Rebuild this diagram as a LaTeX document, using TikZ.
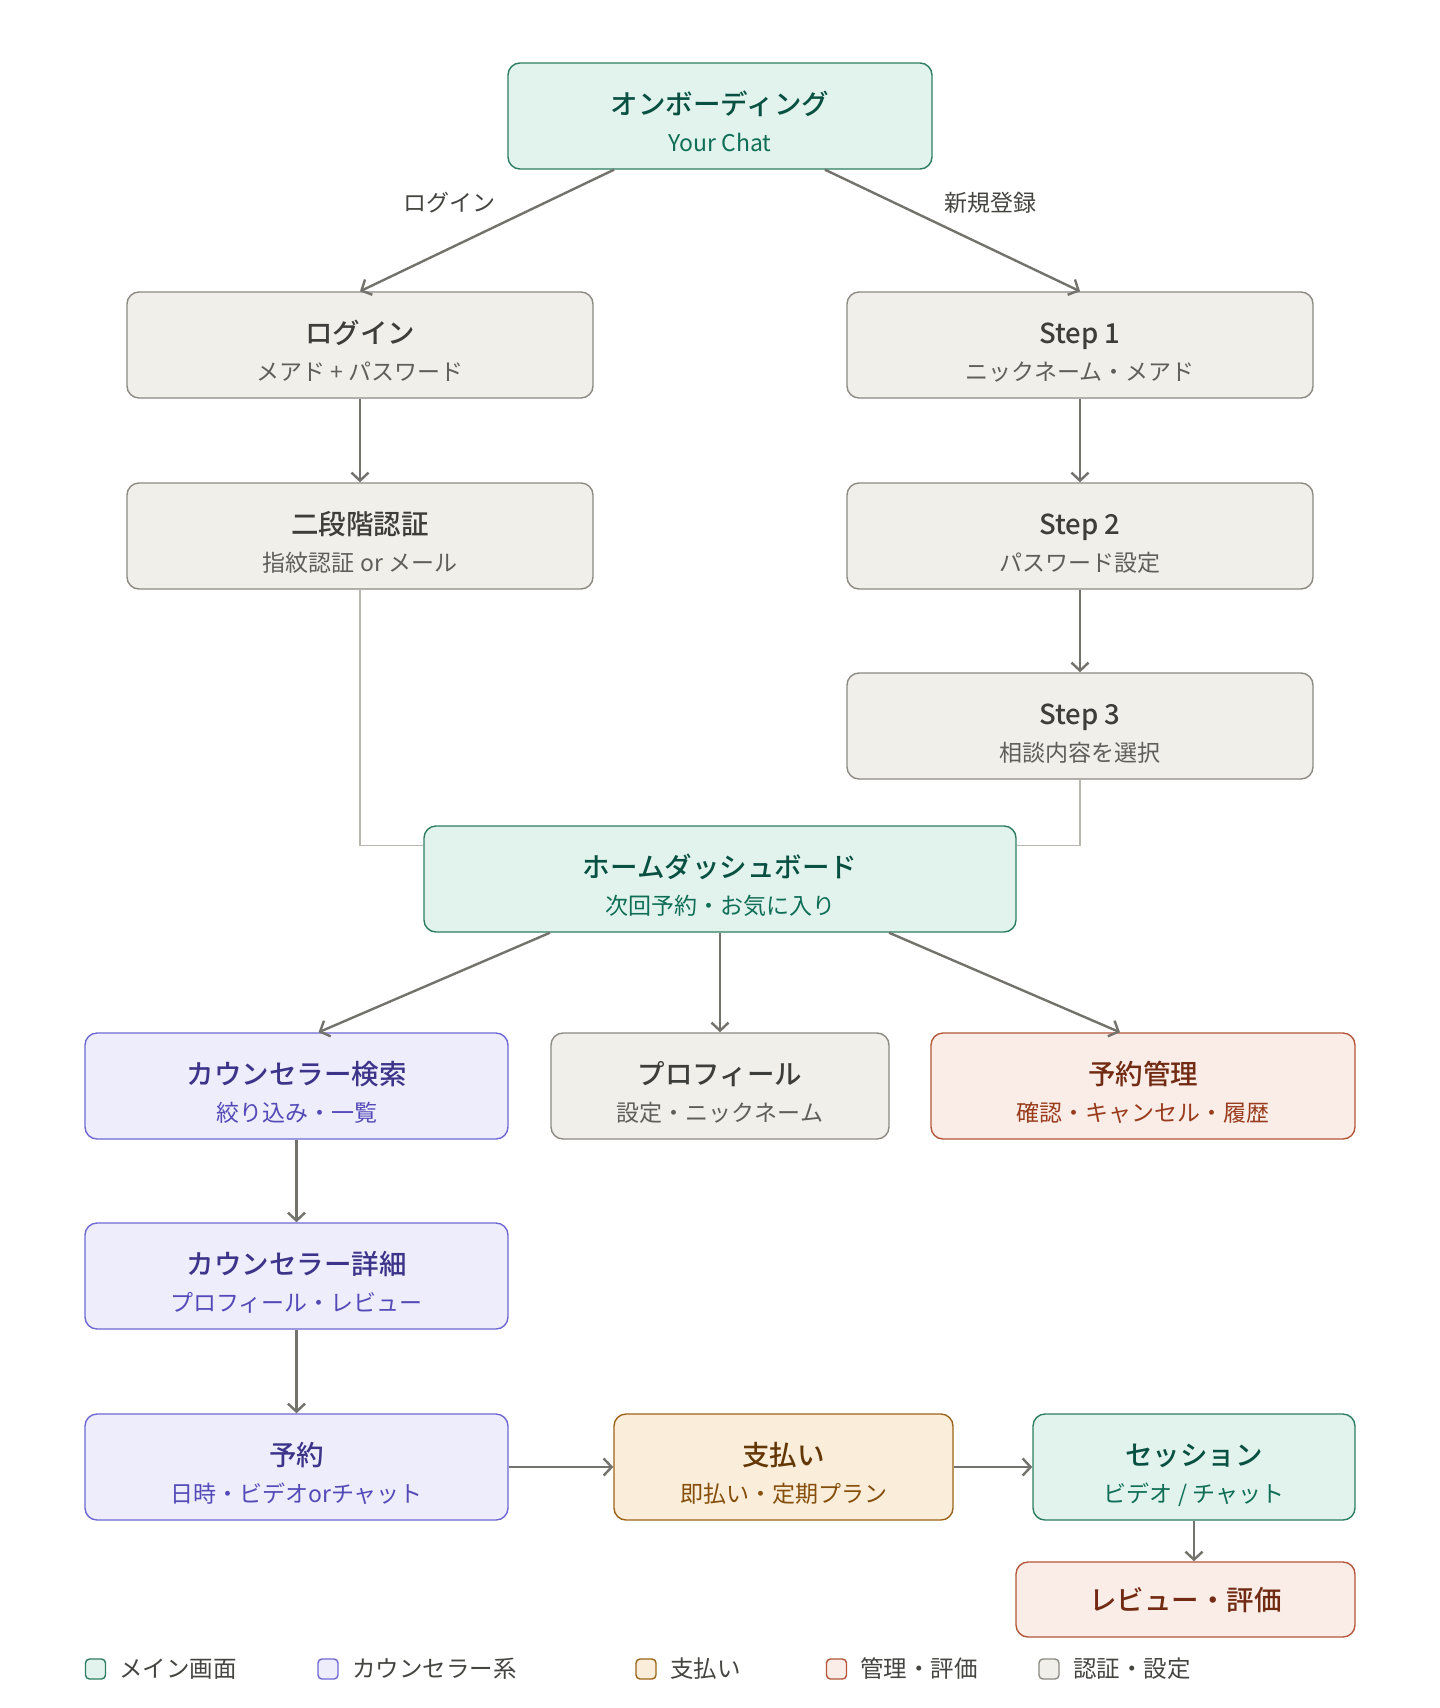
\documentclass[tikz,border=0pt]{standalone}
\usepackage{fontspec}
\setmainfont{Noto Sans CJK JP}[BoldFont={Noto Sans CJK JP Medium}]
\usetikzlibrary{arrows.meta,calc}
\definecolor{tealF}{HTML}{E1F3EC}
\definecolor{tealS}{HTML}{2D7D60}
\definecolor{tealT}{HTML}{085041}
\definecolor{tealU}{HTML}{0F6E56}
\definecolor{grayF}{HTML}{F1EFE9}
\definecolor{grayS}{HTML}{8C8A83}
\definecolor{grayT}{HTML}{3D3D3A}
\definecolor{grayU}{HTML}{5F5E5A}
\definecolor{purpF}{HTML}{EEEDFC}
\definecolor{purpS}{HTML}{7068D2}
\definecolor{purpT}{HTML}{3C3489}
\definecolor{purpU}{HTML}{534AB7}
\definecolor{ambrF}{HTML}{FAEEDA}
\definecolor{ambrS}{HTML}{9B6418}
\definecolor{ambrT}{HTML}{633806}
\definecolor{ambrU}{HTML}{854F0B}
\definecolor{corlF}{HTML}{FAECE7}
\definecolor{corlS}{HTML}{B4573A}
\definecolor{corlT}{HTML}{712B13}
\definecolor{corlU}{HTML}{993C1D}
\definecolor{edgeC}{HTML}{73726C}
\definecolor{lightC}{HTML}{B8B6AE}
\definecolor{lblC}{HTML}{444441}
\newcommand{\card}[7]{%
  \node[box,fill=#5F,draw=#5S,minimum width=#4pt,minimum height=106pt] (#1) at (#2,#3) {};
  \node[ttl,text=#5T] (#1-t) at (#2,#3-2) {#6};
  \node[subt,text=#5U] (#1-s) at (#2,#3+35) {#7};
}
\begin{document}
\begin{tikzpicture}[x=1pt,y=-1pt,
  box/.style={rounded corners=12pt,line width=1.4pt,inner sep=0pt},
  ttl/.style={font=\fontsize{27.5}{32}\selectfont\bfseries,anchor=base,inner sep=0pt},
  subt/.style={font=\fontsize{23}{27}\selectfont,anchor=base,inner sep=0pt},
  elabel/.style={font=\fontsize{23}{27}\selectfont,anchor=base,inner sep=0pt,text=lblC},
  edge/.style={draw=edgeC,line width=2.4pt,-{Straight Barb[length=8pt,width=17pt]}},
  light/.style={draw=lightC,line width=1.6pt},
  lsq/.style={rounded corners=4pt,line width=1.4pt,minimum width=20pt,minimum height=20pt,inner sep=0pt},
  ltx/.style={font=\fontsize{23.5}{28}\selectfont,anchor=base west,inner sep=0pt,text=lblC}]
\useasboundingbox[fill=white] (0,0) rectangle (1440,1708);

% boxes
\card{onb}{720}{116}{424}{teal}{オンボーディング}{Your Chat}
\card{login}{360}{345}{466}{gray}{ログイン}{メアド + パスワード}
\card{tfa}{360}{536}{466}{gray}{二段階認証}{指紋認証 or メール}
\card{step1}{1080}{345}{466}{gray}{Step 1}{ニックネーム・メアド}
\card{step2}{1080}{536}{466}{gray}{Step 2}{パスワード設定}
\card{step3}{1080}{726}{466}{gray}{Step 3}{相談内容を選択}
\card{home}{720}{879}{592}{teal}{ホームダッシュボード}{次回予約・お気に入り}
\card{search}{296.5}{1086}{423}{purp}{カウンセラー検索}{絞り込み・一覧}
\card{prof}{720}{1086}{338}{gray}{プロフィール}{設定・ニックネーム}
\card{mgmt}{1143}{1086}{424}{corl}{予約管理}{確認・キャンセル・履歴}
\card{detail}{296.5}{1276}{423}{purp}{カウンセラー詳細}{プロフィール・レビュー}
\card{rsv}{296.5}{1467}{423}{purp}{予約}{日時・ビデオorチャット}
\card{pay}{783.5}{1467}{339}{ambr}{支払い}{即払い・定期プラン}
\card{sess}{1194}{1467}{322}{teal}{セッション}{ビデオ / チャット}
\node[box,fill=corlF,draw=corlS,minimum width=339pt,minimum height=75pt] (review) at (1185.5,1599.5) {};
\node[ttl,text=corlT] (review-t) at (1185.5,1610) {レビュー・評価};

% connectors
\draw[edge] ($(onb.south)+(-106,0)$) -- (login.north);
\draw[edge] ($(onb.south)+(105,0)$) -- (step1.north);
\node[elabel] (lbl1) at (449,211.5) {ログイン};
\node[elabel] (lbl2) at (990,211.5) {新規登録};
\draw[edge] (login.south) -- (tfa.north);
\draw[edge] (step1.south) -- (step2.north);
\draw[edge] (step2.south) -- (step3.north);
\coordinate (hL) at ($(home.north west)+(0,20)$);
\coordinate (hR) at ($(home.north east)+(0,20)$);
\draw[light] (tfa.south) |- (hL);
\draw[light] (step3.south) |- (hR);
\draw[edge] ($(home.south)+(-170,0)$) -- ($(search.north)+(22,0)$);
\draw[edge] (home.south) -- (prof.north);
\draw[edge] ($(home.south)+(169,0)$) -- ($(mgmt.north)+(-23,0)$);
\draw[edge] (search.south) -- (detail.north);
\draw[edge] (detail.south) -- (rsv.north);
\draw[edge] (rsv.east) -- (pay.west);
\draw[edge] (pay.east) -- (sess.west);
\draw[edge] (sess.south) -- (sess.south |- review.north);

% legend
\node[lsq,fill=tealF,draw=tealS] (lg1) at (95.5,1669) {};
\node[ltx] (lg1t) at (119,1677.5) {メイン画面};
\node[lsq,fill=purpF,draw=purpS] (lg2) at (328,1669) {};
\node[ltx] (lg2t) at (352,1677.5) {カウンセラー系};
\node[lsq,fill=ambrF,draw=ambrS] (lg3) at (646,1669) {};
\node[ltx] (lg3t) at (670,1677.5) {支払い};
\node[lsq,fill=corlF,draw=corlS] (lg4) at (836.5,1669) {};
\node[ltx] (lg4t) at (860,1677.5) {管理・評価};
\node[lsq,fill=grayF,draw=grayS] (lg5) at (1049,1669) {};
\node[ltx] (lg5t) at (1073,1677.5) {認証・設定};
\end{tikzpicture}
\end{document}
